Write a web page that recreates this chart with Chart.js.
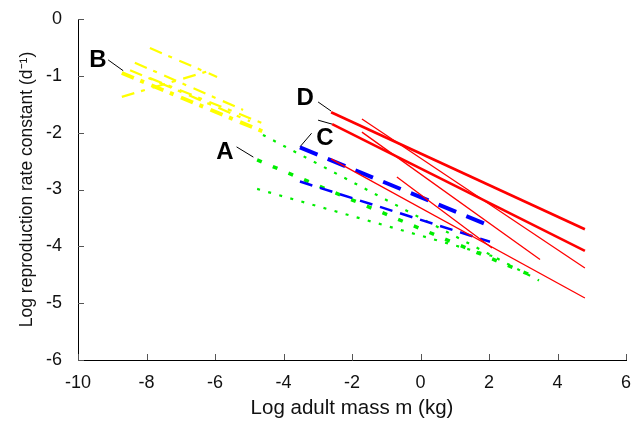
<!DOCTYPE html>
<html>
<head>
<meta charset="utf-8">
<script src="https://cdn.jsdelivr.net/npm/chart.js@4/dist/chart.umd.min.js"></script>
<style>
  html, body { margin: 0; padding: 0; background: #fff; }
</style>
</head>
<body>
<canvas id="chart" width="639" height="422"></canvas>
<script>
// Each relation is [log m start, log r start, log m end, log r end]
const groupB = [
    [-7.90, -0.51, -5.94, -1.02],
    [-8.34, -0.77, -5.18, -1.60],
    [-8.48, -0.90, -4.98, -1.80],
    [-8.72, -0.95, -4.48, -2.01],
    [-7.90, -1.04, -4.63, -1.83],
    [-8.72, -1.37, -6.10, -0.90]
];
const groupBThick = [false, false, false, true, false, false];

const groupA = [
    [-4.60, -2.04, 3.46, -4.60],
    [-4.77, -2.48, 3.43, -4.56],
    [-4.77, -2.99, 2.32, -4.21]
];
const groupAThick = [false, true, false];

const groupC = [
    [-3.52, -2.26, 2.03, -3.64],
    [-3.52, -2.86, 2.03, -3.92]
];
const groupCThick = [true, false];

const groupD = [
    [-2.61, -1.64, 4.80, -3.70],
    [-2.58, -1.85, 4.80, -4.08],
    [-1.71, -1.76, 4.80, -4.38],
    [-1.71, -1.99, 3.49, -4.23],
    [-2.61, -2.46, 4.80, -4.91],
    [-0.69, -2.78, 2.09, -4.03]
];
const groupDThick = [true, true, false, false, false, false];

// letter labels and their pointer lines
const labelNames = ['B', 'A', 'C', 'D'];
const labelPos = [[-9.42, -0.72], [-5.71, -2.34], [-2.79, -2.10], [-3.37, -1.39]];
const pointers = [
    [-9.12, -0.72, -8.68, -0.91],
    [-5.37, -2.25, -4.88, -2.43],
    [-3.18, -2.01, -3.52, -2.25],
    [-2.99, -1.46, -2.61, -1.62],
    [-2.99, -1.78, -2.58, -1.85]
];

function seg(s) {
    return [{ x: s[0], y: s[1] }, { x: s[2], y: s[3] }];
}

const datasets = [];

groupD.forEach((s, i) => datasets.push({
    data: seg(s),
    borderColor: '#ff0000',
    borderWidth: groupDThick[i] ? 2.6 : 1.3
}));

groupC.forEach((s, i) => datasets.push({
    data: seg(s),
    borderColor: '#0000ff',
    borderWidth: groupCThick[i] ? 4 : 2.5,
    borderDash: groupCThick[i] ? [19, 11] : [13, 8]
}));

groupA.forEach((s, i) => datasets.push({
    data: seg(s),
    borderColor: '#00ee00',
    borderWidth: groupAThick[i] ? 3.5 : 2.2,
    borderDash: groupAThick[i] ? [5, 12] : [3, 8.5]
}));

groupB.forEach((s, i) => datasets.push({
    data: seg(s),
    borderColor: '#ffff00',
    borderWidth: groupBThick[i] ? 4 : 2.2,
    borderDash: [13, 7, 4, 8]
}));

pointers.forEach(s => datasets.push({
    data: seg(s),
    borderColor: '#000000',
    borderWidth: 1
}));

const inwardTicks = {
    id: 'inwardTicks',
    afterDraw(chart) {
        const { ctx, chartArea, scales } = chart;
        ctx.save();
        ctx.strokeStyle = '#555';
        ctx.lineWidth = 1;
        ctx.beginPath();
        scales.x.ticks.forEach(t => {
            const px = Math.round(scales.x.getPixelForValue(t.value)) + 0.5;
            ctx.moveTo(px, chartArea.bottom);
            ctx.lineTo(px, chartArea.bottom - 6);
        });
        scales.y.ticks.forEach(t => {
            const py = Math.round(scales.y.getPixelForValue(t.value)) + 0.5;
            ctx.moveTo(chartArea.left, py);
            ctx.lineTo(chartArea.left + 6, py);
        });
        ctx.stroke();

        // group letters
        ctx.fillStyle = '#000';
        ctx.font = 'bold 24px "Liberation Sans", Arial, sans-serif';
        ctx.textAlign = 'center';
        ctx.textBaseline = 'middle';
        labelNames.forEach((name, i) => {
            ctx.fillText(name,
                scales.x.getPixelForValue(labelPos[i][0]),
                scales.y.getPixelForValue(labelPos[i][1]));
        });
        ctx.restore();
    }
};

new Chart(document.getElementById('chart').getContext('2d'), {
    type: 'scatter',
    data: { datasets: datasets },
    options: {
        responsive: false,
        animation: false,
        showLine: true,
        elements: {
            point: { radius: 0, hoverRadius: 0 },
            line: { tension: 0, borderCapStyle: 'butt' }
        },
        layout: { padding: { top: 19, right: 13, left: 0, bottom: 0 } },
        plugins: {
            legend: { display: false },
            tooltip: { enabled: false }
        },
        scales: {
            x: {
                min: -10,
                max: 6,
                grid: { display: false },
                border: { display: true, color: '#000', width: 1 },
                ticks: {
                    stepSize: 2,
                    padding: 4,
                    maxRotation: 0,
                    color: '#111',
                    font: { family: '"Liberation Sans", Arial, sans-serif', size: 18 }
                },
                title: {
                    display: true,
                    text: 'Log adult mass m (kg)',
                    color: '#111',
                    padding: { top: 0, bottom: 1 },
                    font: { family: '"Liberation Sans", Arial, sans-serif', size: 20.5 }
                },
                afterFit(scale) { scale.height = 62; }
            },
            y: {
                min: -6,
                max: 0,
                grid: { display: false },
                border: { display: true, color: '#000', width: 1 },
                ticks: {
                    stepSize: 1,
                    padding: 8,
                    color: '#111',
                    font: { family: '"Liberation Sans", Arial, sans-serif', size: 18 }
                },
                title: {
                    display: true,
                    text: 'Log reproduction rate constant (d\u207B\u00B9)',
                    color: '#111',
                    padding: { top: 17, bottom: 0 },
                    font: { family: '"Liberation Sans", Arial, sans-serif', size: 17.5 }
                },
                afterFit(scale) { scale.width = 78; }
            }
        }
    },
    plugins: [inwardTicks]
});
</script>
</body>
</html>
